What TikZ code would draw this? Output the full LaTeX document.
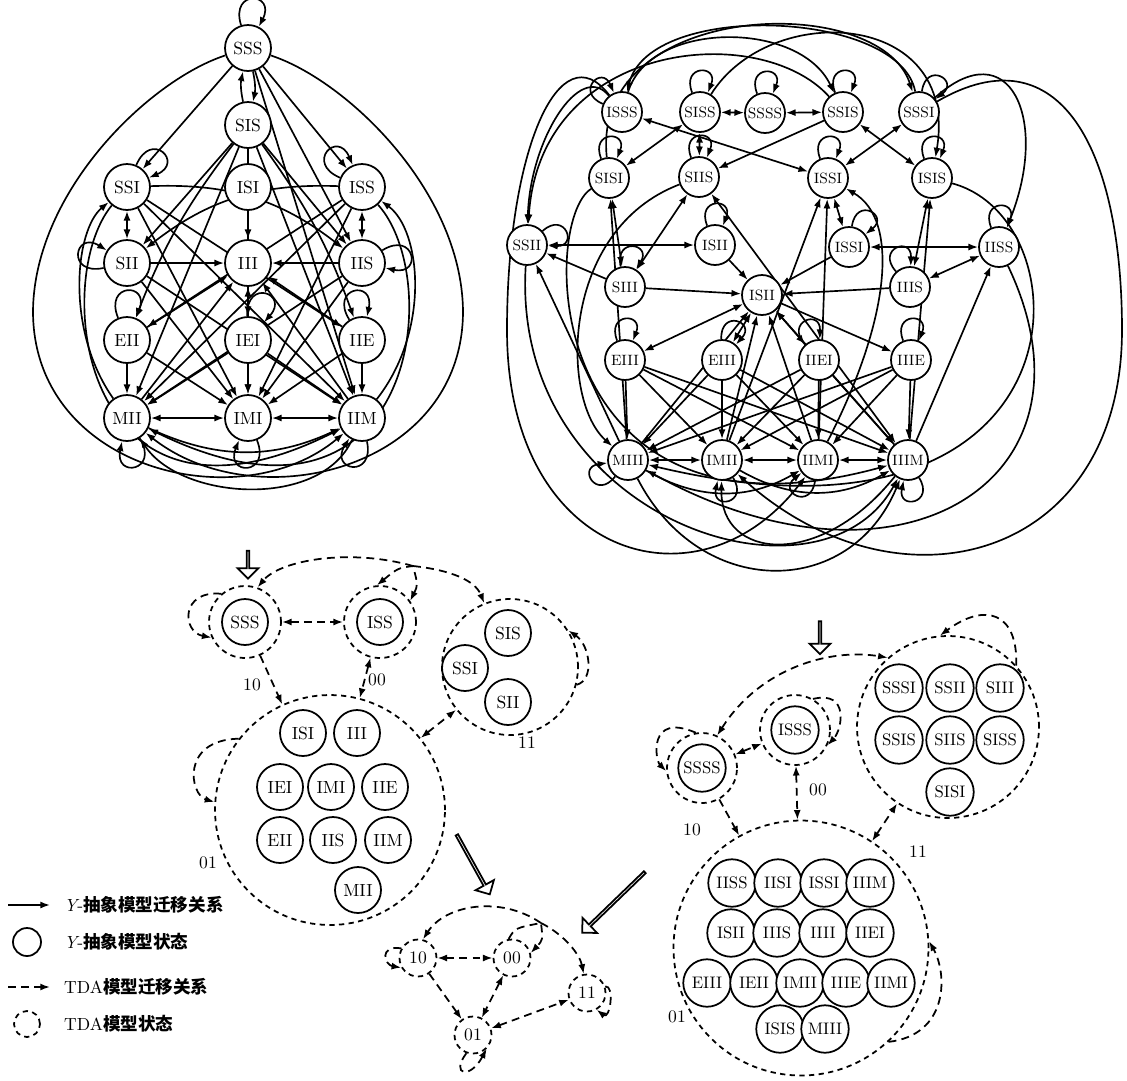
\documentclass[tikz,border=0pt]{standalone}
\usepackage{fontspec}
\newfontfamily\cjk{Noto Sans CJK SC}
\usetikzlibrary{arrows.meta,shapes.arrows,backgrounds}

\tikzset{
  ys/.style={circle,draw,fill=white,line width=1pt,minimum size=0.92cm,inner sep=0pt,font=\fontsize{10}{10}\selectfont},
  yr/.style={ys,minimum size=0.8cm,font=\fontsize{8.5}{9}\selectfont},
  yg/.style={ys,minimum size=0.95cm,font=\fontsize{9.5}{10}\selectfont},
  tg/.style={circle,draw,line width=1pt,dash pattern=on 3pt off 2.5pt,inner sep=0pt},
  tr/.style={-{Latex[length=5.5pt,width=4pt]},line width=0.95pt},
  trr/.style={{Latex[length=5.5pt,width=4pt]}-{Latex[length=5.5pt,width=4pt]},line width=0.95pt},
  td/.style={tr,line width=1pt,dash pattern=on 4.5pt off 3pt},
  tdd/.style={trr,line width=1pt,dash pattern=on 4.5pt off 3pt},
  hollow/.style={single arrow,draw,line width=1pt,minimum width=0.42cm,
    single arrow head extend=0.12cm,single arrow head indent=0pt,inner sep=0pt},
  lbl/.style={font=\fontsize{10}{10}\selectfont},
  lgd/.style={anchor=west,font=\fontsize{10}{11}\selectfont}
}

\begin{document}
\begin{tikzpicture}[x=0.02cm,y=-0.02cm]
\useasboundingbox (0,0) rectangle (1127,1080);

% Y-abstract model, three letters
\node[ys] (aSSS) at (248,48) {SSS};
\node[ys] (aSIS) at (248,125) {SIS};
\node[ys] (aSSI) at (127,187) {SSI};
\node[ys] (aISI) at (248,187) {ISI};
\node[ys] (aISS) at (362,187) {ISS};
\node[ys] (aSII) at (127,263) {SII};
\node[ys] (aIII) at (248,263) {III};
\node[ys] (aIIS) at (362,263) {IIS};
\node[ys] (aEII) at (127,340) {EII};
\node[ys] (aIEI) at (248,340) {IEI};
\node[ys] (aIIE) at (362,340) {IIE};
\node[ys] (aMII) at (127,418) {MII};
\node[ys] (aIMI) at (248,418) {IMI};
\node[ys] (aIIM) at (362,418) {IIM};

\begin{pgfonlayer}{background}
\foreach \s/\t in {aSSS/aSSI,aSSS/aISS,aSSS/aIIS,aSSS/aIIM,aISI/aIII,aSII/aIII,aIIS/aIII,
    aSSI/aIMI,aISS/aIMI,aISS/aMII,aSSI/aIIM,aSIS/aSII,aSIS/aIIS,aSIS/aMII,aSIS/aIMI,aSIS/aIIM,
    aISS/aEII,aSSI/aIIE,aSII/aIMI,aIIS/aIMI,aSII/aIIM,aIIS/aMII,aEII/aMII,aIEI/aIMI,aIIE/aIIM,
    aEII/aIMI,aIIE/aIMI,aIEI/aMII,aIEI/aIIM,aEII/aIII,aIIE/aIII,aMII/aIII,aIIM/aIII}
  \draw[tr] (\s) -- (\t);
\foreach \s/\t in {aSSI/aSII,aISS/aIIS,aMII/aIMI,aIMI/aIIM,aIEI/aIII}
  \draw[trr] (\s) -- (\t);
\draw[tr] (aSSS) to[bend left=12] (aSIS);
\draw[tr] (aSIS) to[bend left=12] (aSSS);
\draw[tr] (aSSI) to[bend left=20] (aIIS);
\draw[tr] (aISS) to[bend right=20] (aSII);
\draw[tr] (aSIS) to[bend right=8] (aEII);
\draw[tr] (aSIS) to[bend left=8] (aIIE);
\draw[tr] (aSSS) .. controls (150,80) and (35,190) .. (33,310) .. controls (32,470) and (240,520) .. (aIIM);
\draw[tr] (aSSS) .. controls (346,80) and (461,190) .. (463,310) .. controls (464,470) and (256,520) .. (aMII);
\draw[tr] (aSSI) .. controls (50,280) and (80,560) .. (aIIM);
\draw[tr] (aISS) .. controls (446,280) and (416,560) .. (aMII);
\draw[tr] (aMII) .. controls (65,330) and (75,230) .. (aSSI);
\draw[tr] (aIIM) .. controls (431,330) and (421,230) .. (aISS);
\draw[tr] (aMII) to[bend right=25] (aIIM);
\draw[tr] (aIIM) .. controls (320,510) and (180,500) .. (aMII);
\foreach \n/\a [evaluate=\a as \ao using \a+22,evaluate=\a as \ai using \a-22] in
    {aSSS/85,aSSI/45,aISS/135,aSII/170,aIIS/10,aEII/90,aIEI/70,aIIE/100,aMII/-80,aIMI/-90,aIIM/-100}
  \draw[tr] (\n) to[out=\ao,in=\ai,looseness=5.5] (\n);
\end{pgfonlayer}

% Y-abstract model, four letters
\node[yr] (bISSS) at (622,112) {ISSS};
\node[yr] (bSISS) at (700,112) {SISS};
\node[yr] (bSSSS) at (765,113) {SSSS};
\node[yr] (bSSIS) at (843,112) {SSIS};
\node[yr] (bSSSI) at (919,112) {SSSI};
\node[yr] (bSISI) at (609,178) {SISI};
\node[yr] (bSIIS) at (699,177) {SIIS};
\node[yr] (bISSIa) at (828,178) {ISSI};
\node[yr] (bISIS) at (932,178) {ISIS};
\node[yr] (bSSII) at (527,245) {SSII};
\node[yr] (bISIIa) at (715,245) {ISII};
\node[yr] (bISSIb) at (849,247) {ISSI};
\node[yr] (bIISS) at (999,247) {IISS};
\node[yr] (bSIII) at (625,287) {SIII};
\node[yr] (bISII) at (762,295) {ISII};
\node[yr] (bIIIS) at (910,287) {IIIS};
\node[yr] (bEIIIa) at (625,360) {EIII};
\node[yr] (bEIIIb) at (722,360) {EIII};
\node[yr] (bIIEI) at (819,360) {IIEI};
\node[yr] (bIIIE) at (911,360) {IIIE};
\node[yr] (bMIII) at (628,460) {MIII};
\node[yr] (bIMII) at (722,460) {IMII};
\node[yr] (bIIMI) at (818,460) {IIMI};
\node[yr] (bIIIM) at (908,460) {IIIM};

\begin{pgfonlayer}{background}
\foreach \s/\t in {bSISS/bSSSS,bSSSS/bSSIS,bSISS/bSISI,bSISS/bSIIS,bISSS/bISSIa,bSSIS/bISIS,
    bSSSI/bISSIa,bSSII/bISIIa,bSISI/bSIII,bSIIS/bSIII,bISSIa/bISSIb,bISSIb/bIISS,bIIIS/bIISS,
    bISIS/bIIIS,bISII/bEIIIa,bISII/bIIEI,bISII/bEIIIb,bMIII/bIMII,bIMII/bIIMI,bIIMI/bIIIM,bSIIS/bIIIM}
  \draw[trr] (\s) -- (\t);
\foreach \s/\t in {bSSIS/bSIIS,bSIII/bSSII,bSIII/bISII,bISIIa/bISII,bISSIb/bISII,bIIIS/bISII,
    bISII/bIIIE,bMIII/bISII,bIMII/bISII,bIIMI/bISII,bIIIM/bISII,bIIMI/bISSIa,bIMII/bISSIa,
    bMIII/bSSII,bIIIM/bIISS,bIIIM/bISIS,bMIII/bSISI}
  \draw[tr] (\s) -- (\t);
\foreach \s in {bEIIIa,bEIIIb,bIIEI,bIIIE}
  \foreach \t in {bMIII,bIMII,bIIMI,bIIIM}
    \draw[tr] (\s) -- (\t);
\draw[tr] (bSISI) .. controls (590,0) and (880,-10) .. (bSSSI);
\draw[tr] (bSSSI) .. controls (900,10) and (650,0) .. (bISSS);
\draw[tr] (bISSS) .. controls (650,20) and (800,20) .. (bSSIS);
\draw[tr] (bSISS) .. controls (770,0) and (960,10) .. (bISIS);
\draw[tr] (bSSIS) .. controls (760,20) and (540,40) .. (bSSII);
\draw[tr] (bSSSI) .. controls (1010,30) and (1050,120) .. (bIISS);
\draw[tr] (bISSS) .. controls (580,60) and (530,140) .. (bSSII);
\draw[tr] (bISSS) .. controls (560,30) and (507,150) .. (507,330) .. controls (507,560) and (700,615) .. (bIIMI);
\draw[tr] (bSSSI) .. controls (1060,30) and (1122,150) .. (1122,330) .. controls (1122,560) and (900,620) .. (bIMII);
\draw[tr] (bSISI) .. controls (540,220) and (540,560) .. (bIIIM);
\draw[tr] (bISIS) .. controls (1090,220) and (1090,570) .. (bMIII);
\draw[tr] (bIISS) .. controls (1110,480) and (900,610) .. (bMIII);
\draw[tr] (bSSII) .. controls (510,520) and (820,620) .. (bIIIM);
\draw[tr] (bSIIS) .. controls (560,230) and (560,400) .. (bMIII);
\draw[tr] (bIIMI) .. controls (890,320) and (900,220) .. (bISSIa);
\draw[tr] (bMIII) .. controls (700,600) and (850,600) .. (bIIIM);
\draw[tr] (bIIIM) .. controls (820,570) and (720,560) .. (bIMII);
\draw[tr] (bMIII) to[bend right=30] (bIIMI);
\draw[tr] (bIMII) to[bend right=30] (bIIIM);
\foreach \n/\a [evaluate=\a as \ao using \a+22,evaluate=\a as \ai using \a-22] in
    {bISSS/135,bSISS/90,bSSSS/90,bSSIS/90,bSSSI/60,bSISI/90,bSIIS/90,bISSIa/90,bISIS/90,
     bSSII/20,bISIIa/90,bISSIb/60,bIISS/90,bSIII/80,bIIIS/110,bEIIIa/90,bEIIIb/70,bIIEI/110,
     bIIIE/90,bMIII/-150,bIMII/-80,bIIMI/-120,bIIIM/-80}
  \draw[tr] (\n) to[out=\ao,in=\ai,looseness=5] (\n);
\end{pgfonlayer}

% hollow arrows
\node[hollow,minimum height=0.56cm,rotate=-90] (ar1) at (248,564) {};
\node[hollow,minimum height=0.66cm,rotate=-90] (ar2) at (820,637) {};
\node[hollow,minimum height=1.36cm,rotate=-61] (ar3) at (473,864) {};
\node[hollow,minimum height=1.74cm,rotate=-136] (ar4) at (614,902) {};

% TDA model of the three letter states
\node[tg,minimum size=1.44cm] (g10) at (245,622) {};
\node[tg,minimum size=1.44cm] (g00) at (380,622) {};
\node[tg,minimum size=2.72cm] (g11) at (510,667) {};
\node[tg,minimum size=4.6cm] (g01) at (330,810) {};
\node[ys] (cSSS) at (245,622) {SSS};
\node[ys] (cISS) at (380,622) {ISS};
\node[ys] (cSIS) at (508,633) {SIS};
\node[ys] (cSSI) at (465,668) {SSI};
\node[ys] (cSII) at (508,702) {SII};
\node[ys] (cISI) at (303,733) {ISI};
\node[ys] (cIII) at (357,733) {III};
\node[ys] (cIEI) at (280,787) {IEI};
\node[ys] (cIMI) at (331,787) {IMI};
\node[ys] (cIIE) at (385,787) {IIE};
\node[ys] (cEII) at (280,840) {EII};
\node[ys] (cIIS) at (333,840) {IIS};
\node[ys] (cIIM) at (388,840) {IIM};
\node[ys] (cMII) at (358,890) {MII};
\coordinate (gap) at (413,566);
\draw[tdd] (g10) -- (g00);
\draw[td] (g10) -- (g01);
\draw[tdd] (g00) -- (g01);
\draw[tdd] (g01) -- (g11);
\draw[tdd] (g00.95) .. controls (398,568) .. (gap) .. controls (418,585) .. (g00.35);
\draw[td] (gap) .. controls (350,548) and (280,560) .. (g10.70);
\draw[td] (gap) .. controls (450,570) and (475,580) .. (g11.112);
\draw[td] (g10.130) .. controls (180,590) and (182,632) .. (g10.205);
\draw[td] (g11.-15) .. controls (595,680) and (590,645) .. (g11.32);
\draw[td] (g01.142) .. controls (180,740) and (190,795) .. (g01.176);
\node[lbl] (n10) at (252,685) {10};
\node[lbl] (n00) at (377,680) {00};
\node[lbl] (n11) at (527,743) {11};
\node[lbl] (n01) at (208,863) {01};

% TDA model of the four letter states
\node[tg,minimum size=1.4cm] (h10) at (702,768) {};
\node[tg,minimum size=1.4cm] (h00) at (795,730) {};
\node[tg,minimum size=3.64cm] (h11) at (948,727) {};
\node[tg,minimum size=5.1cm] (h01) at (801,948) {};
\node[yg] (dSSSS) at (702,768) {SSSS};
\node[yg] (dISSS) at (795,730) {ISSS};
\node[yg] (dSSSI) at (899,688) {SSSI};
\node[yg] (dSSII) at (950,688) {SSII};
\node[yg] (dSIII) at (1000,688) {SIII};
\node[yg] (dSSIS) at (899,740) {SSIS};
\node[yg] (dSIIS) at (950,740) {SIIS};
\node[yg] (dSISS) at (1000,740) {SISS};
\node[yg] (dSISI) at (950,792) {SISI};
\node[yg] (dIISS) at (732,883) {IISS};
\node[yg] (dIISI) at (778,883) {IISI};
\node[yg] (dISSI) at (824,883) {ISSI};
\node[yg] (dIIIM) at (870,883) {IIIM};
\node[yg] (dISII) at (731,933) {ISII};
\node[yg] (dIIIS) at (777,933) {IIIS};
\node[yg] (dIIII) at (823,933) {IIII};
\node[yg] (dIIEI) at (870,933) {IIEI};
\node[yg] (dEIII) at (707,983) {EIII};
\node[yg] (dIEII) at (754,983) {IEII};
\node[yg] (dIMII) at (800,983) {IMII};
\node[yg] (dIIIE) at (846,983) {IIIE};
\node[yg] (dIIMI) at (891,983) {IIMI};
\node[yg] (dISIS) at (780,1029) {ISIS};
\node[yg] (dMIII) at (825,1029) {MIII};
\draw[tdd] (h10) -- (h00);
\draw[td] (h10) -- (h01);
\draw[tdd] (h00) -- (h01);
\draw[tdd] (h01) -- (h11);
\draw[tdd] (h10.65) .. controls (760,668) and (830,648) .. (h11.131);
\draw[td] (h00.60) .. controls (850,690) and (842,730) .. (h00.-25);
\draw[td] (h10.100) .. controls (648,712) and (655,760) .. (h10.185);
\draw[td] (h11.42) .. controls (1018,612) and (985,602) .. (h11.95);
\draw[td] (h01.-47) .. controls (948,1035) and (948,975) .. (h01.3);
\node[lbl] (m00) at (818,790) {00};
\node[lbl] (m10) at (692,830) {10};
\node[lbl] (m11) at (918,852) {11};
\node[lbl] (m01) at (677,1017) {01};

% TDA model of the letter pairs
\node[tg,minimum size=0.74cm,lbl] (k10) at (418,958) {10};
\node[tg,minimum size=0.74cm,lbl] (k00) at (512,958) {00};
\node[tg,minimum size=0.74cm,lbl] (k11) at (587,993) {11};
\node[tg,minimum size=0.74cm,lbl] (k01) at (473,1035) {01};
\coordinate (kap) at (541,923);
\draw[tdd] (k10) -- (k00);
\draw[td] (k10) -- (k01);
\draw[tdd] (k00) -- (k01);
\draw[tdd] (k01) -- (k11);
\draw[td] (k00.100) .. controls (515,928) .. (kap) .. controls (543,940) .. (k00.15);
\draw[td] (kap) .. controls (500,895) and (445,905) .. (k10.75);
\draw[td] (kap) .. controls (565,935) and (580,955) .. (k11.100);
\draw[td] (k10.150) .. controls (378,945) and (385,965) .. (k10.210);
\draw[td] (k11.20) .. controls (615,985) and (610,1020) .. (k11.-60);
\draw[td] (k01.-110) .. controls (450,1075) and (470,1080) .. (k01.-45);

% legend
\coordinate (l1a) at (8,905);
\coordinate (l1b) at (50,905);
\coordinate (l3a) at (8,987);
\coordinate (l3b) at (50,987);
\draw[tr] (l1a) -- (l1b);
\node[ys,minimum size=0.56cm] (l2) at (27,942) {};
\draw[td] (l3a) -- (l3b);
\node[tg,minimum size=0.52cm] (l4) at (27,1024) {};
\node[lgd] (t1) at (58,905) {\itshape Y\upshape -\cjk\bfseries 抽象模型迁移关系};
\node[lgd] (t2) at (58,942) {\itshape Y\upshape -\cjk\bfseries 抽象模型状态};
\node[lgd] (t3) at (58,987) {TDA\cjk\bfseries 模型迁移关系};
\node[lgd] (t4) at (58,1024) {TDA\cjk\bfseries 模型状态};
\end{tikzpicture}
\end{document}
